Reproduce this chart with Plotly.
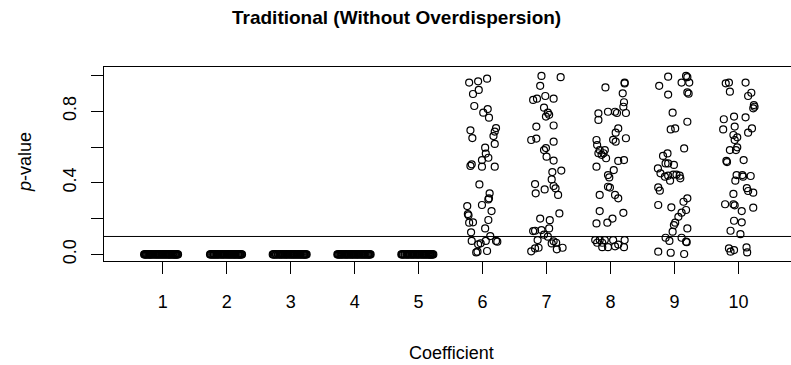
import plotly.graph_objects as go

# ---------------- data ----------------
coefficients = [1, 2, 3, 4, 5, 6, 7, 8, 9, 10]
x_tick_labels = ["1", "2", "3", "4", "5", "6", "7", "8", "9", "10"]
y_tick_vals = [0.0, 0.2, 0.4, 0.6, 0.8, 1.0]
y_tick_text = ["0.0", "", "0.4", "", "0.8", ""]
threshold = 0.1

# coefficients 1-5: p-values essentially zero (jitter offsets)
jit1 = [-0.29, -0.28, -0.27, -0.26, -0.25, -0.235, -0.22, -0.21, -0.2, -0.19, -0.18, -0.165,
        -0.15, -0.14, -0.12, -0.11, -0.1, -0.085, -0.07, -0.06, -0.05, -0.035, -0.02, -0.01,
        0.0, 0.015, 0.03, 0.04, 0.05, 0.065, 0.08, 0.09, 0.1, 0.11, 0.12, 0.135, 0.15, 0.16,
        0.17, 0.185, 0.19, 0.2, 0.21, 0.22, 0.23, 0.24]
jit2 = [-0.26, -0.25, -0.24, -0.225, -0.21, -0.2, -0.19, -0.175, -0.16, -0.15, -0.14, -0.125,
        -0.11, -0.1, -0.08, -0.07, -0.06, -0.045, -0.03, -0.02, 0.0, 0.01, 0.02, 0.035, 0.05,
        0.06, 0.07, 0.085, 0.1, 0.11, 0.12, 0.135, 0.14, 0.155, 0.17, 0.18, 0.19, 0.2, 0.21,
        0.22, 0.23, 0.24]
jit3 = [-0.28, -0.27, -0.26, -0.245, -0.23, -0.22, -0.2, -0.19, -0.17, -0.16, -0.15, -0.135,
        -0.12, -0.11, -0.09, -0.08, -0.07, -0.055, -0.04, -0.03, -0.01, 0.0, 0.01, 0.025, 0.04,
        0.05, 0.06, 0.075, 0.09, 0.1, 0.11, 0.125, 0.14, 0.15, 0.16, 0.175, 0.19, 0.2, 0.21,
        0.22, 0.23, 0.24, 0.25]
jit4 = [-0.27, -0.26, -0.25, -0.235, -0.22, -0.21, -0.2, -0.185, -0.17, -0.155, -0.14, -0.13,
        -0.12, -0.105, -0.09, -0.08, -0.06, -0.05, -0.04, -0.025, -0.01, 0.0, 0.02, 0.03, 0.04,
        0.055, 0.07, 0.08, 0.1, 0.11, 0.12, 0.135, 0.15, 0.16, 0.17, 0.185, 0.2, 0.21, 0.22,
        0.23, 0.24, 0.25]
jit5 = [-0.27, -0.26, -0.25, -0.24, -0.22, -0.21, -0.19, -0.18, -0.17, -0.155, -0.14, -0.13,
        -0.11, -0.1, -0.09, -0.075, -0.06, -0.05, -0.03, -0.02, -0.01, 0.005, 0.02, 0.03, 0.05,
        0.06, 0.07, 0.085, 0.1, 0.11, 0.12, 0.135, 0.15, 0.16, 0.17, 0.18, 0.19, 0.2, 0.21,
        0.22, 0.23]
zero_pvalue = 0.0

# coefficients 6-10: (jitter offset, p-value)
jit6 = [-0.21, -0.07, 0.07, -0.15, -0.06, -0.13, 0.01, 0.08, 0.10, -0.19, -0.16, 0.21, 0.19,
        0.17, 0.19, 0.04, 0.05, 0.09, -0.01, -0.19, -0.17, -0.01, 0.19, -0.05, 0.11, 0.10,
        0.09, -0.01, -0.24, -0.23, -0.22, 0.14, -0.15, -0.21, 0.09, 0.04, -0.18, 0.12, -0.17,
        -0.07, -0.03, 0.05, 0.21, 0.23, -0.10, -0.08, 0.07]
p6 = [0.960, 0.967, 0.982, 0.896, 0.919, 0.829, 0.792, 0.812, 0.764, 0.693, 0.650, 0.706,
      0.686, 0.661, 0.617, 0.596, 0.563, 0.540, 0.527, 0.494, 0.503, 0.490, 0.490, 0.391,
      0.341, 0.313, 0.307, 0.276, 0.270, 0.225, 0.218, 0.242, 0.179, 0.177, 0.192, 0.145,
      0.123, 0.102, 0.075, 0.056, 0.062, 0.075, 0.075, 0.071, 0.011, 0.015, 0.019]

jit7 = [-0.08, 0.22, -0.10, -0.21, -0.15, -0.02, 0.11, -0.04, 0.02, -0.01, 0.04, 0.11, -0.16,
        -0.24, -0.16, 0.11, -0.04, -0.01, 0.00, 0.11, 0.09, 0.23, 0.08, 0.11, 0.14, -0.18,
        -0.17, -0.03, 0.18, -0.10, 0.05, 0.20, -0.21, -0.18, -0.08, 0.04, -0.14, -0.04, 0.02,
        0.11, 0.15, 0.08, -0.18, -0.24, -0.125, 0.16, 0.25]
p7 = [0.997, 0.990, 0.942, 0.863, 0.870, 0.885, 0.870, 0.820, 0.792, 0.770, 0.780, 0.720,
      0.714, 0.639, 0.647, 0.630, 0.583, 0.594, 0.546, 0.524, 0.460, 0.468, 0.419, 0.382,
      0.369, 0.393, 0.341, 0.363, 0.332, 0.200, 0.191, 0.229, 0.130, 0.132, 0.136, 0.145,
      0.080, 0.110, 0.099, 0.073, 0.065, 0.061, 0.033, 0.017, 0.037, 0.028, 0.037]

jit8 = [-0.08, 0.22, 0.22, 0.19, 0.21, 0.20, -0.19, -0.19, -0.04, 0.07, 0.10, 0.24, 0.12,
        0.08, 0.24, 0.04, 0.08, -0.22, -0.21, -0.17, -0.14, -0.11, -0.09, -0.07, -0.19, 0.12,
        0.21, -0.22, 0.05, -0.04, -0.02, -0.01, -0.04, 0.07, 0.12, -0.17, -0.17, 0.03, -0.05,
        -0.22, 0.20, -0.24, -0.17, -0.09, 0.04, 0.22, -0.21, -0.13, -0.13, -0.04, 0.07, 0.12,
        0.21]
p8 = [0.933, 0.960, 0.955, 0.900, 0.850, 0.825, 0.788, 0.751, 0.797, 0.797, 0.790, 0.790,
      0.704, 0.680, 0.649, 0.640, 0.630, 0.639, 0.611, 0.583, 0.556, 0.565, 0.583, 0.537,
      0.565, 0.522, 0.527, 0.490, 0.471, 0.443, 0.430, 0.373, 0.378, 0.332, 0.313, 0.332,
      0.242, 0.200, 0.177, 0.173, 0.232, 0.080, 0.080, 0.080, 0.080, 0.080, 0.065, 0.065,
      0.040, 0.040, 0.045, 0.055, 0.040]

jit9 = [-0.10, -0.24, -0.10, 0.18, 0.20, 0.11, 0.23, 0.20, 0.22, -0.03, 0.20, -0.06, 0.01,
        0.15, -0.18, -0.11, -0.14, -0.10, -0.01, -0.26, -0.22, -0.15, -0.07, -0.10, -0.02,
        0.03, 0.08, 0.09, -0.255, -0.23, -0.255, -0.05, 0.14, 0.20, 0.18, 0.11, 0.06, 0.01,
        -0.01, 0.20, -0.03, -0.14, -0.08, 0.11, 0.18, 0.19, -0.255, -0.06, 0.15]
p9 = [0.993, 0.942, 0.893, 0.997, 0.990, 0.960, 0.960, 0.905, 0.898, 0.792, 0.741, 0.698,
      0.704, 0.592, 0.550, 0.564, 0.508, 0.508, 0.500, 0.480, 0.453, 0.434, 0.412, 0.440,
      0.446, 0.446, 0.440, 0.425, 0.374, 0.356, 0.276, 0.263, 0.294, 0.313, 0.248, 0.233,
      0.210, 0.177, 0.164, 0.145, 0.127, 0.093, 0.075, 0.093, 0.071, 0.068, 0.015, 0.009,
      0.002]

jit10 = [-0.20, -0.15, -0.135, 0.11, 0.15, 0.20, 0.24, 0.23, 0.25, -0.23, -0.24, -0.07, 0.11,
         -0.06, 0.21, 0.15, -0.08, -0.02, -0.06, -0.02, -0.135, -0.04, -0.19, -0.18, 0.08,
         -0.03, 0.06, 0.07, 0.19, -0.05, 0.13, 0.15, 0.23, -0.08, -0.21, -0.08, -0.06, 0.05,
         0.23, -0.07, 0.05, -0.125, 0.03, -0.15, -0.125, -0.07, 0.125, 0.135]
p10 = [0.956, 0.960, 0.909, 0.960, 0.885, 0.903, 0.834, 0.816, 0.825, 0.755, 0.698, 0.770,
       0.766, 0.714, 0.704, 0.680, 0.667, 0.654, 0.639, 0.598, 0.583, 0.583, 0.522, 0.516,
       0.527, 0.443, 0.443, 0.434, 0.438, 0.412, 0.370, 0.354, 0.345, 0.338, 0.280, 0.280,
       0.274, 0.242, 0.261, 0.188, 0.179, 0.132, 0.113, 0.033, 0.015, 0.024, 0.039, 0.011]

zero_jitters = [jit1, jit2, jit3, jit4, jit5]
scatter_jitters = [jit6, jit7, jit8, jit9, jit10]
scatter_pvalues = [p6, p7, p8, p9, p10]

# ---------------- figure ----------------
xs, ys = [], []
for c, jl in zip(coefficients[:5], zero_jitters):
    for j in jl:
        xs.append(c + j)
        ys.append(zero_pvalue)
for c, jl, pl in zip(coefficients[5:], scatter_jitters, scatter_pvalues):
    for j, p in zip(jl, pl):
        xs.append(c + j)
        ys.append(p)

FONT = "Liberation Sans, Arial, Helvetica, sans-serif"

fig = go.Figure()
fig.add_trace(go.Scatter(
    x=xs, y=ys, mode="markers",
    marker=dict(symbol="circle-open", size=7, color="black",
                line=dict(color="black", width=1.2)),
    showlegend=False, hoverinfo="skip",
))

W, H = 791, 365
L, R, T, B = 104, 0, 67, 104
pw, ph = W - L - R, H - T - B

def px(xpix):
    return (xpix - L) / pw

def py(ypix):
    return (H - B - ypix) / ph

fig.add_shape(type="line", xref="paper", yref="y", x0=0, x1=1, y0=threshold, y1=threshold,
              line=dict(color="black", width=1))

fig.update_layout(
    width=W, height=H,
    margin=dict(l=L, r=R, t=T, b=B, pad=0),
    paper_bgcolor="white", plot_bgcolor="white",
    font=dict(family=FONT, size=18, color="black"),
    xaxis=dict(
        range=[0.083, 10.82], tickvals=coefficients, ticktext=x_tick_labels,
        showgrid=False, zeroline=False,
        showline=True, mirror=True, linecolor="black", linewidth=1,
        ticks="outside", ticklen=12, tickwidth=1, tickcolor="black",
        ticklabelstandoff=12,
        tickfont=dict(family=FONT, size=18, color="black"),
    ),
    yaxis=dict(
        range=[-0.037, 1.047], tickvals=y_tick_vals, ticktext=y_tick_text,
        showgrid=False, zeroline=False,
        showline=True, mirror=False, linecolor="black", linewidth=1,
        ticks="outside", ticklen=12, tickwidth=1, tickcolor="black",
        tickangle=-90, ticklabelstandoff=8,
        tickfont=dict(family=FONT, size=18, color="black"),
    ),
    annotations=[
        dict(text="<b>Traditional (Without Overdispersion)</b>", xref="paper", yref="paper",
             x=px(396), y=py(17), xanchor="center", yanchor="middle", showarrow=False,
             font=dict(family=FONT, size=19, color="black")),
        dict(text="Coefficient", xref="paper", yref="paper",
             x=px(451), y=py(353), xanchor="center", yanchor="middle", showarrow=False,
             font=dict(family=FONT, size=18, color="black")),
        dict(text="<i>p</i>-value", xref="paper", yref="paper", textangle=-90,
             x=px(25), y=py(162), xanchor="center", yanchor="middle", showarrow=False,
             font=dict(family=FONT, size=18, color="black")),
    ],
)

fig.write_html("out.html")
